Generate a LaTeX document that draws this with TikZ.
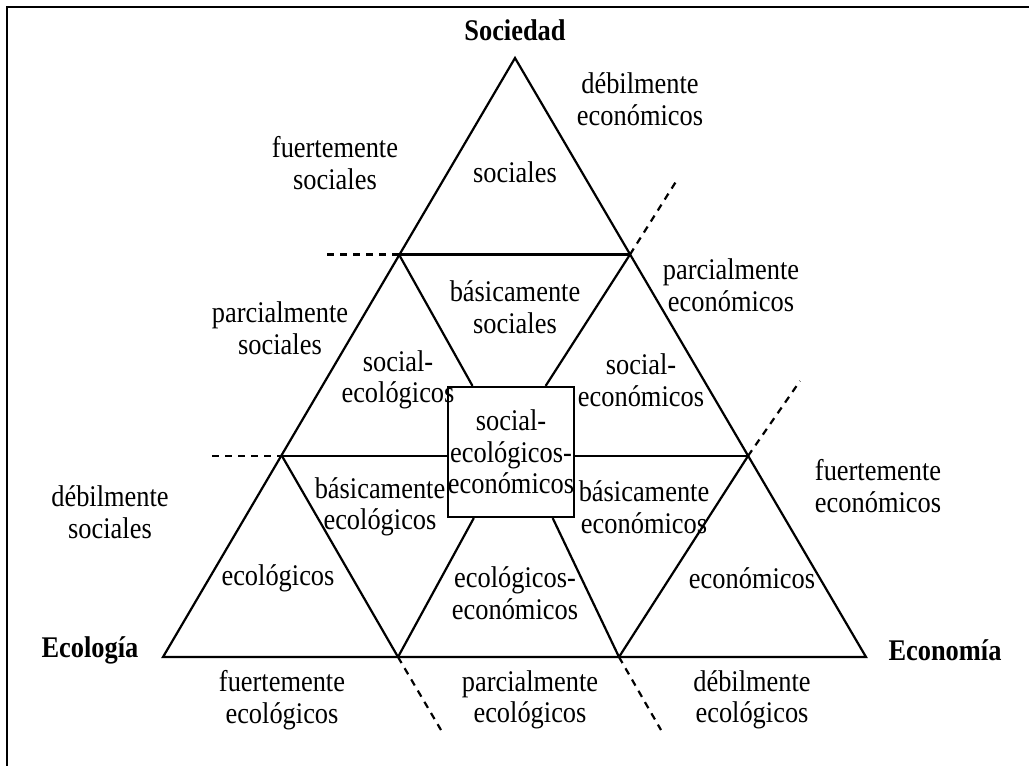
\documentclass[tikz,border=0pt]{standalone}
\usepackage{fontspec}
\setmainfont{Liberation Serif}[FakeStretch=0.88]
\usetikzlibrary{calc}
\begin{document}
\begin{tikzpicture}[x=1pt,y=-1pt,
  edge/.style={line width=2.2pt},
  guide/.style={line width=2.2pt,dash pattern=on 7pt off 6pt},
  lbl/.style={align=center,inner sep=0pt,font=\fontsize{30}{31.5}\selectfont},
  corner/.style={inner sep=0pt,font=\fontsize{30}{31.5}\selectfont\bfseries}]
\useasboundingbox (0,0) rectangle (1029,766);
% outer frame (top and left edges)
\draw[line width=2.6pt] (7,766) -- (7,7) -- (1029,7);

% vertices and division points of the big triangle
\coordinate (S) at (515,58);
\coordinate (L) at (163,657);
\coordinate (R) at (866,657);
\coordinate (l1) at (399,254.5);
\coordinate (r1) at (630,254.5);
\coordinate (l2) at (282,456);
\coordinate (r2) at (748,456);
\coordinate (b1) at (398,657);
\coordinate (b2) at (619,657);

% central box
\node[draw,line width=2.2pt,fill=white,minimum width=126pt,minimum height=130pt,
      inner sep=0pt,lbl] (core) at (511,452) {social-\\ecológicos-\\económicos};

% outline
\draw[edge,line join=miter] (S) -- (L) -- (R) -- cycle;
% inner grid
\draw[edge] (l1) -- (r1);
\draw[edge] (l2) -- (l2 -| core.west);
\draw[edge] (r2 -| core.east) -- (r2);
\draw[edge] (l1) -- ($(core.north west)!0.2!(core.north east)$);
\draw[edge] (r1) -- ($(core.north west)!0.77!(core.north east)$);
\draw[edge] ($(core.south west)!0.21!(core.south east)$) -- (b1);
\draw[edge] ($(core.south west)!0.825!(core.south east)$) -- (b2);
\draw[edge] (l2) -- (b1);
\draw[edge] (r2) -- (b2);

% dashed zone boundaries
\coordinate (dl1) at (327,254.5);
\coordinate (dl2) at (212,456);
\coordinate (dr1) at (677,180);
\coordinate (dr2) at (800,381);
\coordinate (db1) at (441,730);
\coordinate (db2) at (661,730);
\draw[guide] (dl1) -- (l1);
\draw[guide] (dl2) -- (l2);
\draw[guide] (r1) -- (dr1);
\draw[guide] (r2) -- (dr2);
\draw[guide] (b1) -- (db1);
\draw[guide] (b2) -- (db2);

% corner titles
\node[corner] (soc) at (515,30) {Sociedad};
\node[corner] (eco) at (90,650) {Ecología};
\node[corner] (econ) at (945,650) {Economía};

% regions inside the triangle
\node[lbl] (t1) at (515,172) {sociales};
\node[lbl] (t2) at (515,307) {básicamente\\sociales};
\node[lbl] (t3) at (398,380) {social-\\ecológicos};
\node[lbl] (t4) at (641,380) {social-\\económicos};
\node[lbl] (t5) at (380,507) {básicamente\\ecológicos};
\node[lbl] (t6) at (644,507) {básicamente\\económicos};
\node[lbl] (t7) at (278,578) {ecológicos};
\node[lbl] (t8) at (515,593) {ecológicos-\\económicos};
\node[lbl] (t9) at (752,578) {económicos};

% zones outside the triangle
\node[lbl] (z1) at (335,163) {fuertemente\\sociales};
\node[lbl] (z2) at (280,328) {parcialmente\\sociales};
\node[lbl] (z3) at (110,512) {débilmente\\sociales};
\node[lbl] (z4) at (640,99) {débilmente\\económicos};
\node[lbl] (z5) at (731,285) {parcialmente\\económicos};
\node[lbl] (z6) at (878,486) {fuertemente\\económicos};
\node[lbl] (z7) at (282,700) {fuertemente\\ecológicos};
\node[lbl] (z8) at (530,700) {parcialmente\\ecológicos};
\node[lbl] (z9) at (752,700) {débilmente\\ecológicos};
\end{tikzpicture}
\end{document}
